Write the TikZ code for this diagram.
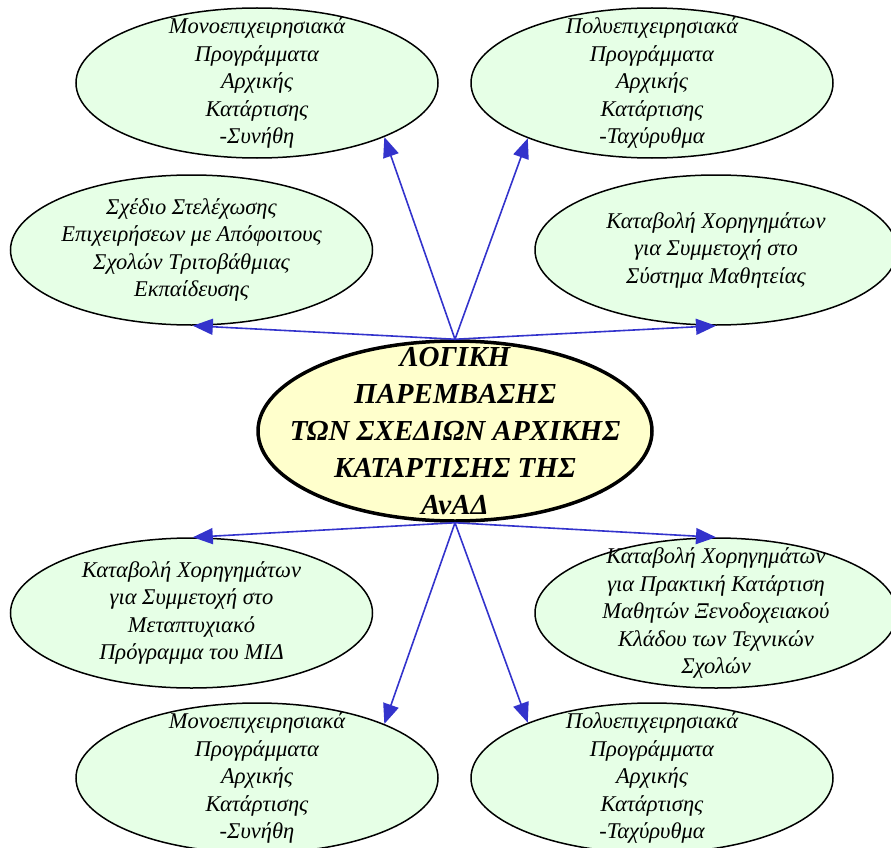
\documentclass[tikz,border=0pt]{standalone}
\usepackage{fontspec}
\setmainfont{Liberation Serif}
\usetikzlibrary{shapes.geometric,arrows.meta}
\definecolor{leaf}{RGB}{230,255,230}
\definecolor{sun}{RGB}{255,255,204}
\definecolor{arr}{RGB}{51,51,204}
\begin{document}
\begin{tikzpicture}[x=1pt,y=-1pt,
  leafbox/.style={ellipse, draw, line width=1.5pt, fill=leaf, minimum width=362pt, minimum height=150pt, inner sep=0pt},
  hubbox/.style={ellipse, draw, line width=3.5pt, fill=sun, minimum width=394pt, minimum height=180pt, inner sep=0pt},
  txt/.style={align=center, inner sep=0pt, font=\fontsize{22.5}{27.5}\selectfont\itshape},
  hubtxt/.style={align=center, inner sep=0pt, font=\fontsize{29}{37}\selectfont\bfseries\itshape},
  link/.style={draw=arr, line width=1.6pt, -{Triangle[length=20pt,width=16pt]}}
]
\useasboundingbox (0,0) rectangle (891,848);

\node[leafbox] (tl) at (257,83) {};
\node[leafbox] (tr) at (652,83) {};
\node[leafbox] (ml) at (191.5,250) {};
\node[leafbox] (mr) at (716,250) {};
\node[hubbox] (c) at (455,431) {};
\node[leafbox] (bl) at (191.5,613) {};
\node[leafbox] (br) at (716,613) {};
\node[leafbox] (btl) at (257,778) {};
\node[leafbox] (btr) at (652,778) {};

\node[txt] (tlt) at (tl.center) {Μονοεπιχειρησιακά\\Προγράμματα\\Αρχικής\\Κατάρτισης\\-Συνήθη};
\node[txt] (trt) at (tr.center) {Πολυεπιχειρησιακά\\Προγράμματα\\Αρχικής\\Κατάρτισης\\-Ταχύρυθμα};
\node[txt] (mlt) at (ml.center) {Σχέδιο Στελέχωσης\\Επιχειρήσεων με Απόφοιτους\\Σχολών Τριτοβάθμιας\\Εκπαίδευσης};
\node[txt] (mrt) at (mr.center) {Καταβολή Χορηγημάτων\\για Συμμετοχή στο\\Σύστημα Μαθητείας};
\node[hubtxt] (ct) at (c.center) {ΛΟΓΙΚΗ\\ΠΑΡΕΜΒΑΣΗΣ\\ΤΩΝ ΣΧΕΔΙΩΝ ΑΡΧΙΚΗΣ\\ΚΑΤΑΡΤΙΣΗΣ ΤΗΣ\\ΑνΑΔ};
\node[txt] (blt) at (bl.center) {Καταβολή Χορηγημάτων\\για Συμμετοχή στο\\Μεταπτυχιακό\\Πρόγραμμα του ΜΙΔ};
\node[txt] (brt) at (br.center) {Καταβολή Χορηγημάτων\\για Πρακτική Κατάρτιση\\Μαθητών Ξενοδοχειακού\\Κλάδου των Τεχνικών\\Σχολών};
\node[txt] (btlt) at (btl.center) {Μονοεπιχειρησιακά\\Προγράμματα\\Αρχικής\\Κατάρτισης\\-Συνήθη};
\node[txt] (btrt) at (btr.center) {Πολυεπιχειρησιακά\\Προγράμματα\\Αρχικής\\Κατάρτισης\\-Ταχύρυθμα};

\draw[link] (c.north) -- (tl.-23.7);
\draw[link] (c.north) -- (tr.-156.6);
\draw[link] (c.north) -- (ml.-89);
\draw[link] (c.north) -- (mr.-90);
\draw[link] (c.south) -- (bl.89);
\draw[link] (c.south) -- (br.90);
\draw[link] (c.south) -- (btl.23.3);
\draw[link] (c.south) -- (btr.156.7);
\end{tikzpicture}
\end{document}
